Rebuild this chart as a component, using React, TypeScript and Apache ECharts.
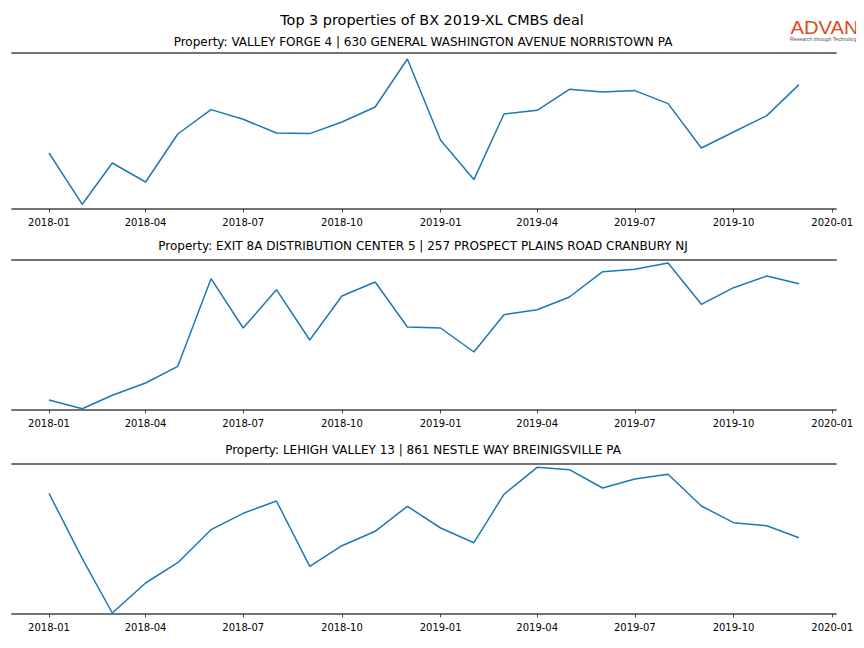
import React, { useEffect, useRef } from "react";
import * as echarts from "echarts";

const months = [
  "2018-01", "2018-02", "2018-03", "2018-04", "2018-05", "2018-06",
  "2018-07", "2018-08", "2018-09", "2018-10", "2018-11", "2018-12",
  "2019-01", "2019-02", "2019-03", "2019-04", "2019-05", "2019-06",
  "2019-07", "2019-08", "2019-09", "2019-10", "2019-11", "2019-12",
];

const valleyForge = [
  56, 4.7, 46, 27, 75, 99.4, 89.7, 76, 75.4, 87, 102, 150,
  68.7, 29.4, 95, 98.7, 119.7, 117, 118.4, 105.4, 61, 77, 93.4, 124.4,
];

const exit8a = [
  10, 1.3, 14.7, 27, 43.7, 131.3, 82, 120.3, 70, 114, 128, 83,
  82, 58, 95.3, 100.3, 113, 138.3, 140.7, 147, 105.7, 122.3, 134, 126.3,
];

const lehighValley = [
  120.7, 55.3, 1, 31, 51.3, 84.3, 100.7, 113, 47.7, 68.3, 82.7, 107.7,
  86, 71.3, 119.7, 146.7, 144.3, 126, 135, 139.7, 108, 91.3, 88.3, 76.3,
];

const tickLabels = [
  "2018-01", "2018-04", "2018-07", "2018-10", "2019-01",
  "2019-04", "2019-07", "2019-10", "2020-01",
];

const mainTitle = "Top 3 properties of BX 2019-XL CMBS deal";
const panelTitles = [
  "Property: VALLEY FORGE 4 | 630 GENERAL WASHINGTON AVENUE NORRISTOWN PA",
  "Property: EXIT 8A DISTRIBUTION CENTER 5 | 257 PROSPECT PLAINS ROAD CRANBURY NJ",
  "Property: LEHIGH VALLEY 13 | 861 NESTLE WAY BREINIGSVILLE PA",
];
const panelMax = [156, 150, 150];

const toTs = (s: string) => {
  const [y, m] = s.split("-").map(Number);
  return Date.UTC(y, m - 1, 1);
};

const fmt = (v: number) => {
  const d = new Date(v);
  const m = d.getUTCMonth() + 1;
  return `${d.getUTCFullYear()}-${m < 10 ? "0" + m : m}`;
};

export default function App() {
  const ref = useRef<HTMLDivElement>(null);
  useEffect(() => {
    if (!ref.current) return;
    const chart = echarts.init(ref.current, null, { renderer: "svg" });
    const DAY = 86400000;
    const xMin = toTs("2018-01") - 34.5 * DAY;
    const xMax = toTs("2019-12") + 34.5 * DAY;
    const tickVals = tickLabels.map(toTs);
    const grids = [
      { left: 12, right: 28, top: 53, height: 156 },
      { left: 12, right: 28, top: 260, height: 150 },
      { left: 12, right: 28, top: 464, height: 150 },
    ];
    const seriesData = [valleyForge, exit8a, lehighValley];
    const xAxes: any[] = [];
    const yAxes: any[] = [];
    const series: any[] = [];
    grids.forEach((g, i) => {
      xAxes.push({
        type: "value",
        gridIndex: i,
        min: xMin,
        max: xMax,
        position: "bottom",
        axisLine: { show: true, onZero: false, lineStyle: { color: "#444", width: 1.7 } },
        axisTick: { show: true, customValues: tickVals, length: 3.5, lineStyle: { color: "#222", width: 0.8 } },
        axisLabel: {
          show: true,
          customValues: tickVals,
          formatter: (v: number) => fmt(v),
          fontSize: 10,
          color: "#000",
          margin: 8,
          fontFamily: "DejaVu Sans",
          hideOverlap: false,
          showMinLabel: true,
          showMaxLabel: true,
        },
        splitLine: { show: false },
      });
      xAxes.push({
        type: "value",
        gridIndex: i,
        min: xMin,
        max: xMax,
        position: "top",
        axisLine: { show: true, onZero: false, lineStyle: { color: "#444", width: 1.7 } },
        axisTick: { show: false },
        axisLabel: { show: false },
        splitLine: { show: false },
      });
      yAxes.push({
        type: "value",
        gridIndex: i,
        min: 0,
        max: panelMax[i],
        show: false,
      });
      series.push({
        type: "line",
        xAxisIndex: i * 2,
        yAxisIndex: i,
        showSymbol: false,
        symbol: "none",
        lineStyle: { color: "#1f77b4", width: 1.5 },
        data: months.map((m, k) => [toTs(m), seriesData[i][k]]),
      });
    });

    const titleYs = [42, 246, 450];
    const graphic: any[] = [
      {
        type: "text",
        x: 432,
        y: 20,
        style: {
          text: mainTitle,
          fontSize: 14.4,
          fontFamily: "DejaVu Sans",
          fill: "#000",
          align: "center",
          verticalAlign: "middle",
        },
      },
      ...panelTitles.map((t, i) => ({
        type: "text",
        x: 423,
        y: titleYs[i],
        style: {
          text: t,
          fontSize: 12,
          fontFamily: "DejaVu Sans",
          fill: "#000",
          align: "center",
          verticalAlign: "middle",
        },
      })),
      {
        type: "text",
        x: 824.5,
        y: 27.5,
        scaleX: 1.12,
        style: {
          text: "ADVAN",
          fontSize: 18,
          lineHeight: 13,
          fontFamily: "Liberation Sans",
          fill: "#e2461c",
          align: "center",
          verticalAlign: "middle",
        },
      },
      {
        type: "text",
        x: 824.5,
        y: 38.5,
        style: {
          text: "Research through Technology",
          fontSize: 5.2,
          lineHeight: 5,
          fontFamily: "Liberation Sans",
          fill: "#555",
          align: "center",
          verticalAlign: "middle",
        },
      },
    ];

    chart.setOption({
      animation: false,
      backgroundColor: "#fff",
      grid: grids,
      xAxis: xAxes,
      yAxis: yAxes,
      series,
      graphic,
    });
    return () => chart.dispose();
  }, []);
  return <div ref={ref} style={{ width: 864, height: 648, margin: -8 }} />;
}
